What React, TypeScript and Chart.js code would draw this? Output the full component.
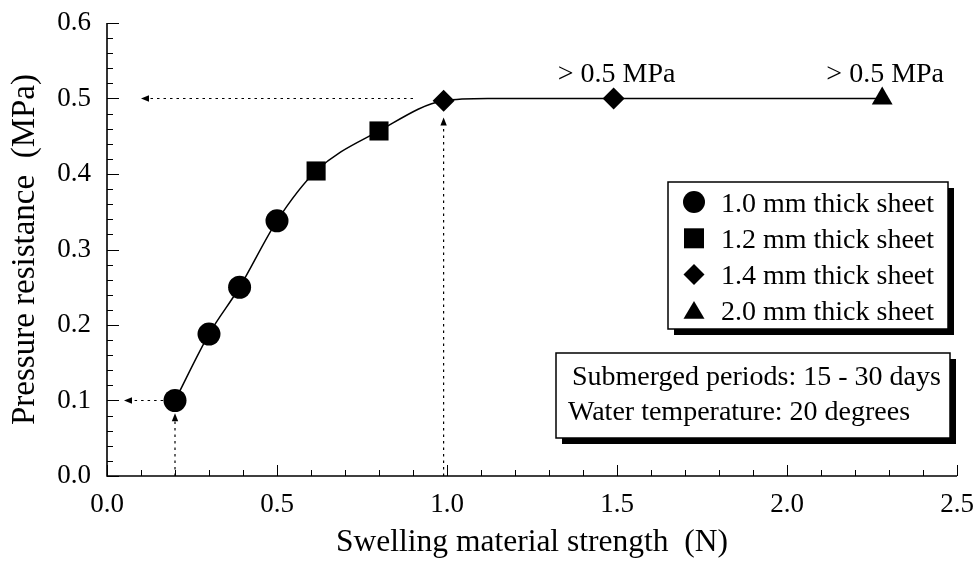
import React, { useEffect, useRef } from 'react';
import { Chart, registerables } from 'chart.js';

Chart.register(...registerables);

// ---- data ----
const circleX = [0.2, 0.3, 0.39, 0.5];
const circleY = [0.1, 0.188, 0.25, 0.338];
const squareX = [0.615, 0.8];
const squareY = [0.404, 0.457];
const diamondX = [0.99, 1.49];
const diamondY = [0.497, 0.5];
const triangleX = [2.28];
const triangleY = [0.5];

// fitted curve knots
const curveX = [0.2, 0.3, 0.39, 0.5, 0.615, 0.8, 0.99, 1.12, 1.49, 2.28];
const curveY = [0.1, 0.188, 0.25, 0.338, 0.404, 0.457, 0.497, 0.5, 0.5, 0.5];

// dotted guide arrows (from -> to, arrow head at "to")
const arrowFromX = [0.165, 0.2, 0.9, 0.99];
const arrowFromY = [0.1, 0.0, 0.5, 0.0];
const arrowToX = [0.05, 0.2, 0.1, 0.99];
const arrowToY = [0.1, 0.083, 0.5, 0.475];

const annotationText = ['> 0.5 MPa', '> 0.5 MPa'];
const annotationX = [1.49, 2.28];
const annotationY = [0.5, 0.5];

const legendLabels = ['1.0 mm thick sheet', '1.2 mm thick sheet', '1.4 mm thick sheet', '2.0 mm thick sheet'];
const legendShapes = ['circle', 'square', 'diamond', 'triangle'];
const noteLines = ['Submerged periods: 15 - 30 days', 'Water temperature: 20 degrees'];

const xTitle = 'Swelling material strength  (N)';
const yTitle = 'Pressure resistance  (MPa)';
const xMin = 0, xMax = 2.5, xMajor = 0.5, xMinor = 0.1;
const yMin = 0, yMax = 0.6, yMajor = 0.1, yMinor = 0.02;

const FAMILY = '"Liberation Serif", "Times New Roman", serif';
const FS = 28;

const toPts = (xs: number[], ys: number[]) => xs.map((x, i) => ({ x, y: ys[i] }));

function drawShape(ctx: CanvasRenderingContext2D, shape: string, x: number, y: number, s: number) {
  ctx.beginPath();
  if (shape === 'circle') {
    ctx.arc(x, y, s, 0, Math.PI * 2);
  } else if (shape === 'square') {
    ctx.rect(x - s, y - s, s * 2, s * 2);
  } else if (shape === 'diamond') {
    ctx.moveTo(x, y - s);
    ctx.lineTo(x + s, y);
    ctx.lineTo(x, y + s);
    ctx.lineTo(x - s, y);
    ctx.closePath();
  } else {
    ctx.moveTo(x, y - s * 0.95);
    ctx.lineTo(x + s, y + s * 0.75);
    ctx.lineTo(x - s, y + s * 0.75);
    ctx.closePath();
  }
  ctx.fill();
}

const framePlugin = {
  id: 'frame',
  beforeDatasetsDraw(chart: any) {
    const { ctx, chartArea: ca, scales } = chart;
    const xs = scales.x, ys = scales.y;
    ctx.save();
    ctx.strokeStyle = '#000';
    // ticks (inward)
    ctx.lineWidth = 1;
    const nx = Math.round((xMax - xMin) / xMinor);
    for (let i = 0; i <= nx; i++) {
      const v = xMin + i * xMinor;
      const px = Math.round(xs.getPixelForValue(v)) + 0.5;
      const major = Math.abs(v / xMajor - Math.round(v / xMajor)) < 1e-6;
      const len = major ? 11 : 6;
      ctx.beginPath();
      ctx.moveTo(px, ca.bottom);
      ctx.lineTo(px, ca.bottom - len);
      ctx.stroke();
    }
    const ny = Math.round((yMax - yMin) / yMinor);
    for (let i = 0; i <= ny; i++) {
      const v = yMin + i * yMinor;
      const py = Math.round(ys.getPixelForValue(v)) + 0.5;
      const major = Math.abs(v / yMajor - Math.round(v / yMajor)) < 1e-6;
      const len = major ? 12 : 6;
      ctx.beginPath();
      ctx.moveTo(ca.left, py);
      ctx.lineTo(ca.left + len, py);
      ctx.stroke();
    }
    // axis lines
    ctx.lineWidth = 1.6;
    ctx.beginPath();
    ctx.moveTo(ca.left, ca.top);
    ctx.lineTo(ca.left, ca.bottom);
    ctx.lineTo(ca.right, ca.bottom);
    ctx.stroke();

    // dotted guide arrows
    for (let i = 0; i < arrowFromX.length; i++) {
      const x0 = xs.getPixelForValue(arrowFromX[i]);
      const y0 = ys.getPixelForValue(arrowFromY[i]);
      const x1 = xs.getPixelForValue(arrowToX[i]);
      const y1 = ys.getPixelForValue(arrowToY[i]);
      const ang = Math.atan2(y1 - y0, x1 - x0);
      const headLen = 8, headW = 3.2;
      const bx = x1 - Math.cos(ang) * headLen;
      const by = y1 - Math.sin(ang) * headLen;
      ctx.lineWidth = 1.2;
      ctx.setLineDash([2.5, 4]);
      ctx.beginPath();
      ctx.moveTo(x0, y0);
      ctx.lineTo(bx, by);
      ctx.stroke();
      ctx.setLineDash([]);
      ctx.fillStyle = '#000';
      ctx.beginPath();
      ctx.moveTo(x1, y1);
      ctx.lineTo(bx - Math.sin(ang) * headW, by + Math.cos(ang) * headW);
      ctx.lineTo(bx + Math.sin(ang) * headW, by - Math.cos(ang) * headW);
      ctx.closePath();
      ctx.fill();
    }
    ctx.restore();
  },
  afterDraw(chart: any) {
    const { ctx, scales } = chart;
    const xs = scales.x, ys = scales.y;
    ctx.save();
    ctx.font = `${FS}px ${FAMILY}`;
    ctx.fillStyle = '#000';
    // annotations
    ctx.textAlign = 'center';
    ctx.textBaseline = 'alphabetic';
    for (let i = 0; i < annotationText.length; i++) {
      ctx.fillText(annotationText[i], xs.getPixelForValue(annotationX[i]) + 3, ys.getPixelForValue(annotationY[i]) - 17);
    }
    // legend / note boxes with drop shadow
    const boxes = [
      { l: 668, t: 182, r: 948, b: 329 },
      { l: 556, t: 353, r: 950, b: 438 },
    ];
    for (const bx of boxes) {
      ctx.fillStyle = '#000';
      ctx.fillRect(bx.l + 6, bx.t + 6, bx.r - bx.l, bx.b - bx.t);
      ctx.fillStyle = '#fff';
      ctx.fillRect(bx.l, bx.t, bx.r - bx.l, bx.b - bx.t);
      ctx.strokeStyle = '#000';
      ctx.lineWidth = 1.5;
      ctx.strokeRect(bx.l, bx.t, bx.r - bx.l, bx.b - bx.t);
    }
    ctx.fillStyle = '#000';
    ctx.textAlign = 'left';
    ctx.textBaseline = 'alphabetic';
    for (let i = 0; i < legendLabels.length; i++) {
      const cy = 202 + i * 36.3;
      const sz = legendShapes[i] === 'circle' ? 11 : legendShapes[i] === 'square' ? 10 : 10.5;
      drawShape(ctx, legendShapes[i], 694, cy, sz);
      ctx.fillText(legendLabels[i], 721, cy + 9.5);
    }
    ctx.fillText(noteLines[0], 572, 385);
    ctx.fillText(noteLines[1], 568, 420);
    ctx.restore();
  },
};

export default function App() {
  const ref = useRef<HTMLCanvasElement | null>(null);
  useEffect(() => {
    if (!ref.current) return;
    const tickFont = { family: FAMILY, size: 27 };
    const chart = new Chart(ref.current, {
      type: 'scatter',
      data: {
        datasets: [
          {
            label: legendLabels[0],
            data: toPts(circleX, circleY),
            pointStyle: 'circle',
            pointRadius: 11.5,
            backgroundColor: '#000',
            borderWidth: 0,
          },
          {
            label: legendLabels[1],
            data: toPts(squareX, squareY),
            pointStyle: 'rect',
            pointRadius: 13.5,
            backgroundColor: '#000',
            borderWidth: 0,
          },
          {
            label: legendLabels[2],
            data: toPts(diamondX, diamondY),
            pointStyle: 'rectRot',
            pointRadius: 11,
            backgroundColor: '#000',
            borderWidth: 0,
          },
          {
            label: legendLabels[3],
            data: toPts(triangleX, triangleY),
            pointStyle: 'triangle',
            pointRadius: 12,
            backgroundColor: '#000',
            borderWidth: 0,
          },
          {
            label: 'curve',
            data: toPts(curveX, curveY),
            showLine: true,
            pointRadius: 0,
            borderColor: '#000',
            borderWidth: 1.5,
            cubicInterpolationMode: 'monotone',
          } as any,
        ],
      },
      options: {
        responsive: false,
        animation: false,
        devicePixelRatio: 1,
        layout: { padding: { left: 0, top: 23, right: 20, bottom: 0 } },
        plugins: { legend: { display: false }, tooltip: { enabled: false } },
        scales: {
          x: {
            type: 'linear',
            min: xMin,
            max: xMax,
            afterFit: (s: any) => {
              s.height = 86;
              s.paddingLeft = 0; s.paddingRight = 0; s.paddingTop = 0; s.paddingBottom = 0;
            },
            afterBuildTicks: (s: any) => {
              const t = [];
              for (let v = xMin; v <= xMax + 1e-9; v += xMajor) t.push({ value: +v.toFixed(2) });
              s.ticks = t;
            },
            ticks: { callback: (v: any) => Number(v).toFixed(1), font: tickFont, color: '#000', padding: 13, maxRotation: 0 },
            grid: { display: false, drawTicks: false },
            border: { display: false },
            title: { display: true, text: xTitle, font: { family: FAMILY, size: 31.5 }, color: '#000', padding: { top: 0, bottom: 0 } },
          },
          y: {
            type: 'linear',
            min: yMin,
            max: yMax,
            afterFit: (s: any) => {
              s.width = 107;
              s.paddingLeft = 0; s.paddingRight = 0; s.paddingTop = 0; s.paddingBottom = 0;
            },
            afterBuildTicks: (s: any) => {
              const t = [];
              for (let v = yMin; v <= yMax + 1e-9; v += yMajor) t.push({ value: +v.toFixed(2) });
              s.ticks = t;
            },
            ticks: { callback: (v: any) => Number(v).toFixed(1), font: tickFont, color: '#000', padding: 16 },
            grid: { display: false, drawTicks: false },
            border: { display: false },
            title: { display: true, text: yTitle, font: { family: FAMILY, size: 33 }, color: '#000', padding: { top: 6, bottom: 0 } },
          },
        },
      },
      plugins: [framePlugin],
    } as any);
    return () => chart.destroy();
  }, []);
  return (
    <div style={{ position: 'absolute', left: 0, top: 0, width: 977, height: 562 }}>
      <canvas ref={ref} width={977} height={562} style={{ width: 977, height: 562, display: 'block' }} />
    </div>
  );
}
